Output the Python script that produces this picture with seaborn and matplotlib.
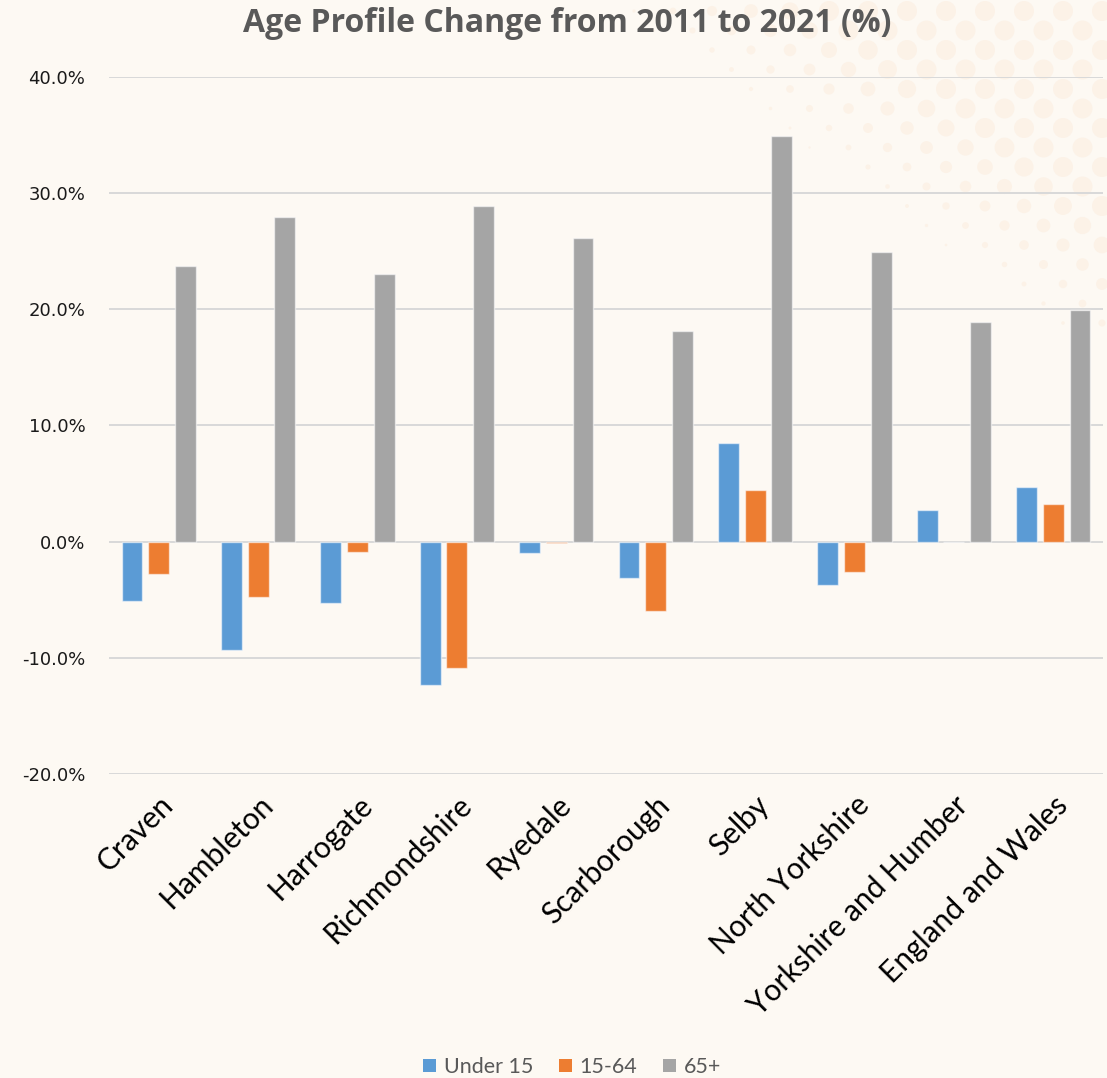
import numpy as np
import pandas as pd
import matplotlib
matplotlib.use("Agg")
import matplotlib.pyplot as plt
import seaborn as sns
from matplotlib.patches import Patch

categories = ["Craven", "Hambleton", "Harrogate", "Richmondshire", "Ryedale",
              "Scarborough", "Selby", "North Yorkshire", "Yorkshire and Humber",
              "England and Wales"]
under15 = [-5.1, -9.3, -5.3, -12.3, -1.0, -3.1, 8.5, -3.7, 2.7, 4.7]
age15_64 = [-2.8, -4.8, -0.9, -10.9, -0.1, -6.0, 4.4, -2.6, 0.0, 3.2]
age65p = [23.7, 27.9, 23.0, 28.9, 26.1, 18.1, 34.9, 24.9, 18.9, 19.9]
series_names = ["Under 15", "15-64", "65+"]
yticks = [-20, -10, 0, 10, 20, 30, 40]
title = "Age Profile Change from 2011 to 2021 (%)"

colors = ["#5B9BD5", "#ED7D31", "#A5A5A5"]
bg = "#FDF9F3"

df = pd.DataFrame({
    "Area": categories * 3,
    "Group": sum([[n] * len(categories) for n in series_names], []),
    "Value": under15 + age15_64 + age65p,
})

sns.set_theme(style="white")
plt.rcParams["font.family"] = ["Lato", "DejaVu Sans"]

fig = plt.figure(figsize=(11.07, 10.78), dpi=100, facecolor=bg)

# decorative dot pattern in the top-right corner
W, H = 1107, 1078
xs, ys, ss = [], [], []
for row in range(0, 18):
    yy = 11 + row * 19.5
    off = 0 if row % 2 == 0 else 19.5
    for col in range(0, 30):
        xx = 595 + off + col * 39
        d = xx - 1.36 * yy - 617
        if d < -10:
            continue
        r = min(10.0, 1.5 + 0.045 * d)
        if r > 0.8:
            xs.append(xx / W)
            ys.append(1 - yy / H)
            ss.append((2 * r * 0.72) ** 2)
deco = fig.add_axes([0, 0, 1, 1], zorder=0)
deco.set_xlim(0, 1); deco.set_ylim(0, 1); deco.axis("off")
deco.scatter(xs, ys, s=ss, color="#FCF2E7", linewidths=0)

ax = fig.add_axes([109 / W, 1 - 774 / H, (1103 - 109) / W, (774 - 76.7) / H], zorder=1)
ax.patch.set_alpha(0)

sns.barplot(data=df, x="Area", y="Value", hue="Group", hue_order=series_names,
            palette=colors, width=0.806, gap=0.215, ax=ax, legend=False,
            saturation=1, edgecolor=(1, 1, 1, 0.55), linewidth=1.0, errorbar=None)

ax.set_ylim(-20, 40)
ax.set_xlim(-0.5, len(categories) - 0.5)
ax.set_yticks(yticks)
ax.set_yticklabels([f"{v:.1f}%" for v in yticks], family="DejaVu Sans", fontsize=13, color="#1a1a1a")
ax.yaxis.grid(True, color="#D9D9D9", linewidth=1.4)
ax.set_axisbelow(True)
for s in ax.spines.values():
    s.set_visible(False)
ax.tick_params(axis="y", length=0, pad=17)
ax.tick_params(axis="x", length=0, pad=12)
ax.set_xlabel("")
ax.set_ylabel("")
ax.set_xticks(range(len(categories)))
ax.set_xticklabels(categories, rotation=45, ha="right", rotation_mode="anchor",
                   fontsize=21.5, color="#000000")

fig.text(567 / W, 1 - 23 / H, title, ha="center", va="center", fontsize=23,
         fontweight="bold", color="#595959", family=["Open Sans", "DejaVu Sans"])

handles = [Patch(facecolor=c, edgecolor="none") for c in colors]
fig.legend(handles, series_names, loc="center", bbox_to_anchor=(572 / W, 1 - 1067 / H),
           ncol=3, frameon=False, fontsize=15.5, labelcolor="#595959",
           handlelength=0.6, handleheight=0.6, handletextpad=0.35, columnspacing=1.2)

fig.savefig("out.png", dpi=100, facecolor=bg)
